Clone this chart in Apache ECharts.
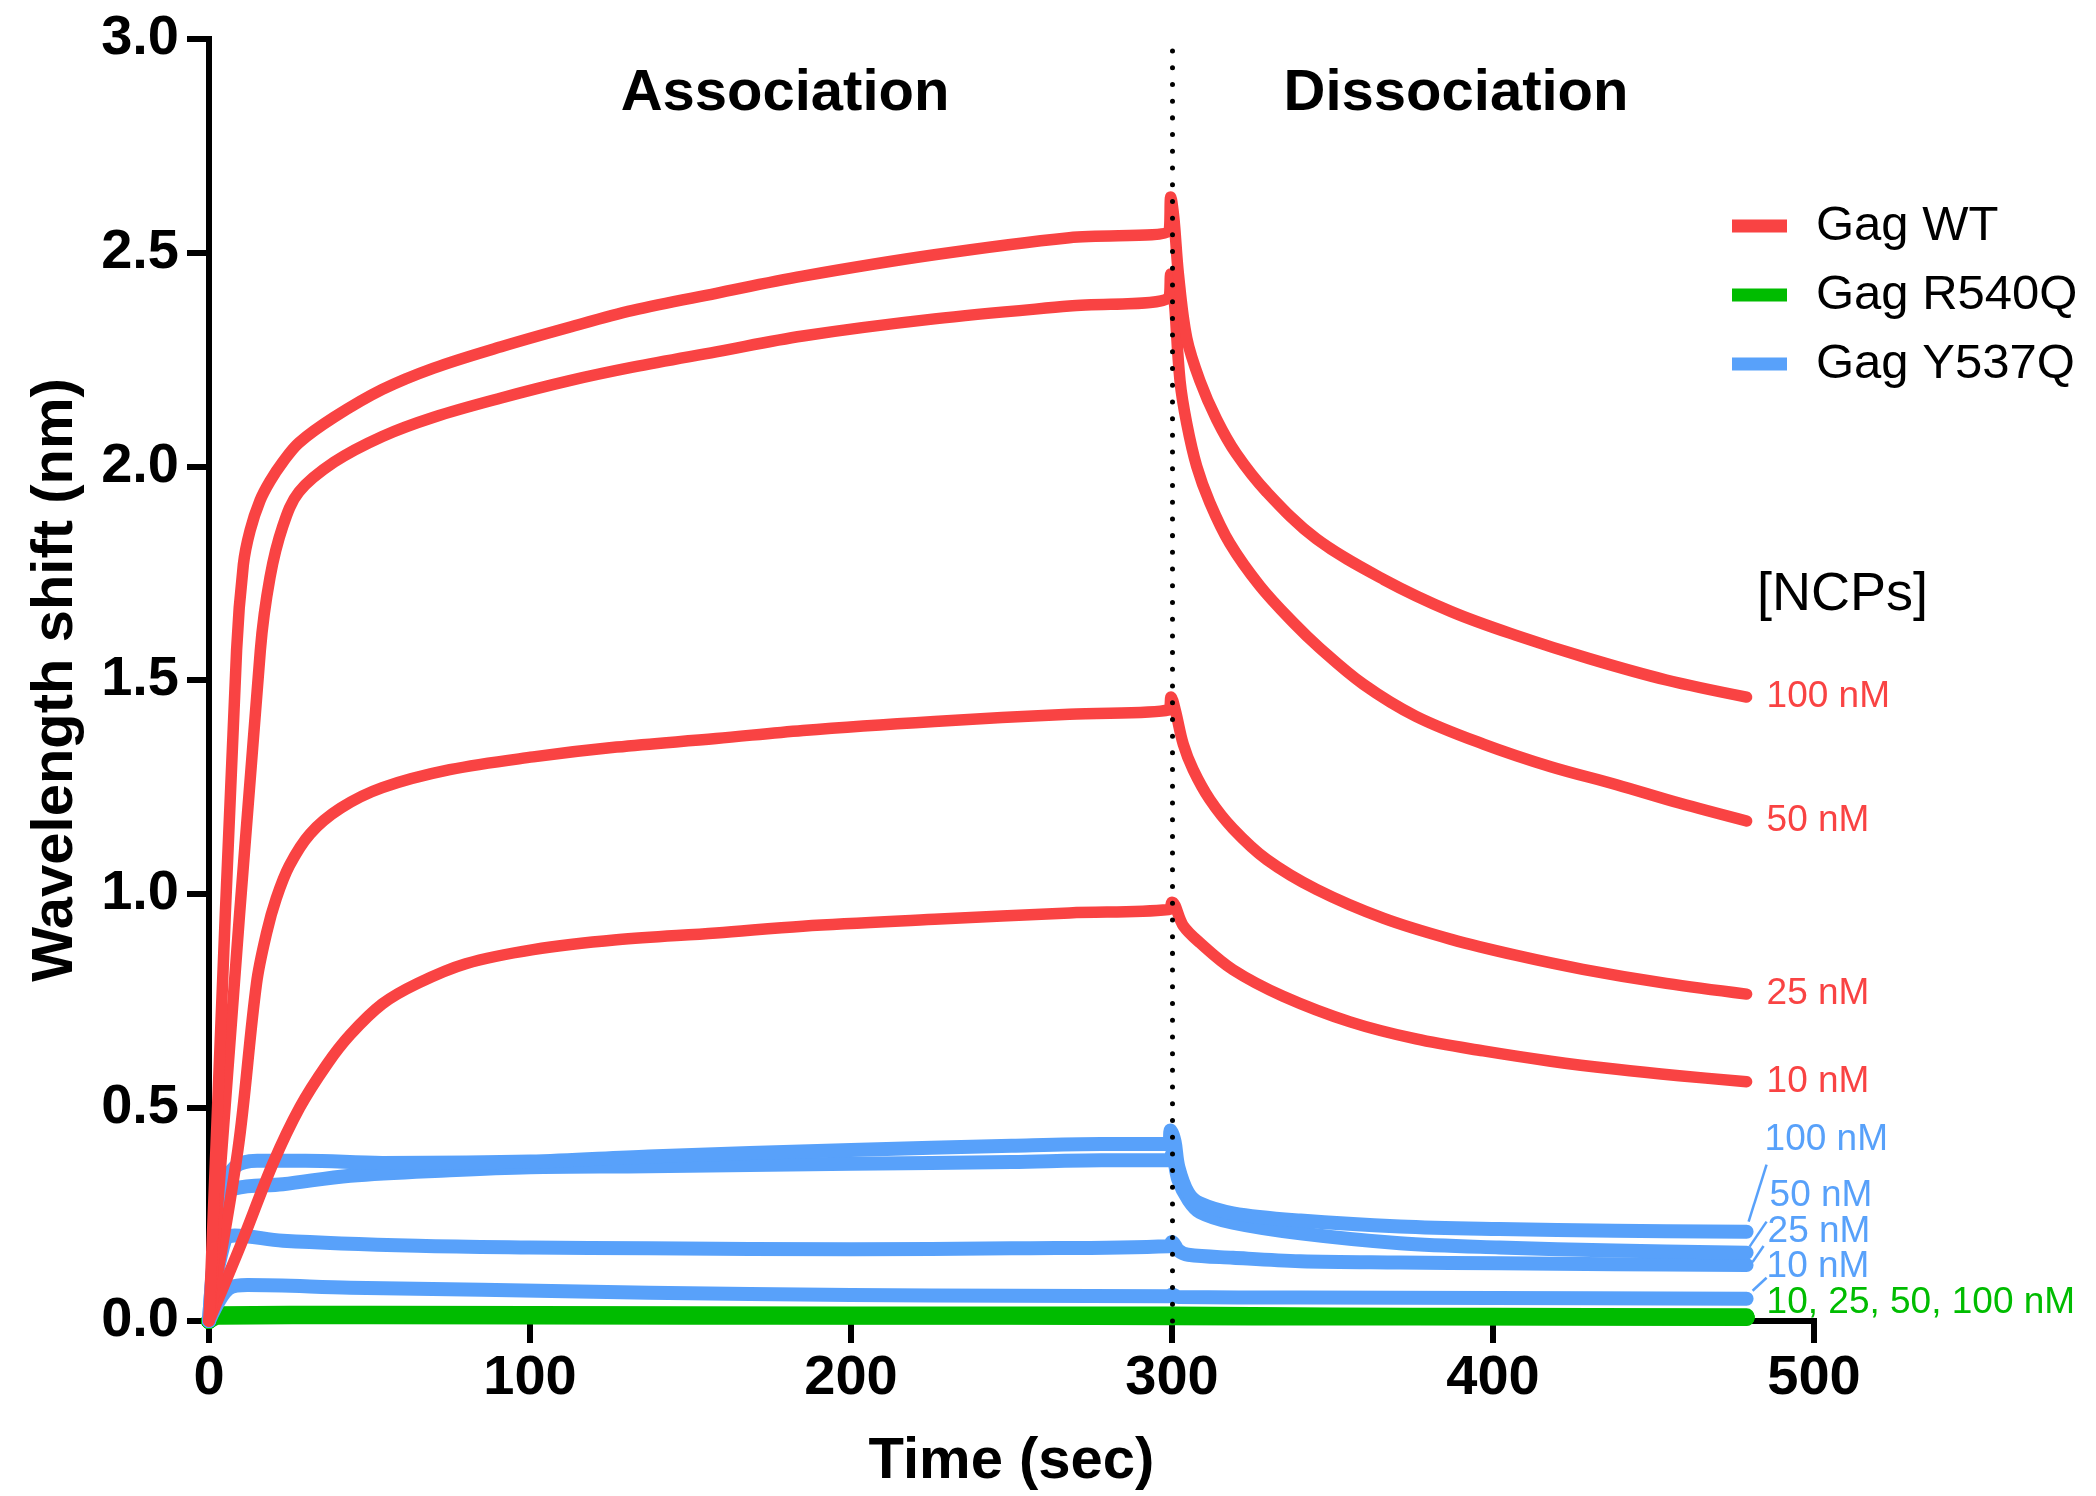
<!DOCTYPE html>
<html>
<head>
<meta charset="utf-8">
<script src="https://cdn.jsdelivr.net/npm/echarts@6/dist/echarts.min.js"></script>
<style>
  html, body { margin: 0; padding: 0; background: #ffffff; }
  #chart { width: 2096px; height: 1496px; }
</style>
</head>
<body>
<div id="chart"></div>
<script>
// Binding kinetics of Gag variants on NCP-loaded biosensors: [time (s), shift (nm)]
const xTicks = [0, 100, 200, 300, 400, 500];
const yTicks = [0, 0.5, 1.0, 1.5, 2.0, 2.5, 3.0];
const concentrations = ['100 nM', '50 nM', '25 nM', '10 nM'];

// Gag WT
const wt100 = [[0,0],[8.6,1.57],[10.7,1.77],[12.8,1.85],[15.9,1.92],[19,1.965],[23,2.01],[28,2.055],[39,2.115],[54,2.18],[70,2.23],[91,2.28],[112,2.325],[132,2.365],[158,2.405],[185,2.445],[226,2.495],[268,2.535],[299,2.55],[299.6,2.63],[300.6,2.58],[302,2.45],[304.6,2.30],[308.7,2.20],[313.9,2.11],[320,2.03],[329.5,1.94],[345,1.83],[366,1.735],[387,1.66],[407,1.605],[430,1.55],[454,1.50],[479,1.46]];
const wt50 = [[0,0],[16,1.57],[19,1.74],[23,1.86],[28,1.94],[39,2.01],[54,2.07],[70,2.115],[91,2.16],[112,2.20],[132,2.232],[158,2.268],[185,2.305],[226,2.345],[268,2.375],[299,2.395],[299.6,2.45],[300.6,2.40],[302.5,2.20],[304.6,2.10],[307.7,2.00],[311.8,1.915],[318,1.82],[327.4,1.72],[337.7,1.635],[346,1.575],[359.6,1.49],[376,1.415],[397,1.35],[418,1.297],[438.5,1.255],[458,1.212],[479,1.17]];
const wt25 = [[0,0],[9,0.40],[14.8,0.79],[18,0.91],[21,0.99],[25,1.065],[31.5,1.14],[41,1.20],[54,1.248],[75,1.29],[101,1.32],[127,1.343],[158,1.363],[185,1.382],[226,1.403],[268,1.42],[299,1.43],[299.7,1.46],[301,1.43],[303.5,1.35],[306.6,1.29],[311.8,1.22],[319,1.152],[329.5,1.08],[345,1.01],[366,0.942],[387,0.893],[407,0.856],[428,0.823],[454,0.79],[479,0.765]];
const wt10 = [[0,0],[10,0.18],[20,0.37],[28.3,0.50],[36.7,0.60],[44,0.67],[54,0.742],[65,0.79],[80,0.836],[101,0.869],[127,0.892],[158,0.908],[185,0.924],[226,0.94],[268,0.955],[299,0.963],[300,0.98],[303.5,0.925],[308.7,0.885],[319,0.822],[334.6,0.76],[355.5,0.70],[376,0.66],[397,0.632],[418,0.608],[438.5,0.589],[458,0.574],[479,0.56]];

// Gag Y537Q
const y537q100 = [[0,0],[4,0.30],[8,0.36],[15,0.375],[30,0.375],[54,0.37],[100,0.373],[137,0.385],[200,0.40],[250,0.41],[278,0.414],[299,0.414],[299.6,0.446],[300.8,0.42],[302,0.36],[305,0.30],[308.7,0.275],[319,0.252],[340,0.235],[371,0.221],[402,0.215],[438,0.211],[479,0.209]];
const y537q50 = [[0,0],[4,0.28],[8,0.31],[23,0.32],[44,0.34],[75,0.353],[100,0.36],[137,0.362],[200,0.368],[250,0.372],[278,0.376],[299,0.376],[300,0.39],[302,0.33],[305,0.285],[308.7,0.255],[319,0.23],[340,0.205],[371,0.182],[402,0.172],[438,0.165],[479,0.16]];
const y537q25 = [[0,0],[5,0.19],[8,0.20],[23,0.188],[65,0.176],[100,0.172],[137,0.17],[200,0.168],[250,0.17],[299,0.175],[300,0.185],[302,0.165],[305,0.155],[319,0.148],[340,0.14],[371,0.137],[402,0.135],[438,0.133],[479,0.131]];
const y537q10 = [[0,0],[6,0.075],[12,0.084],[44,0.078],[85,0.073],[137,0.066],[200,0.061],[250,0.059],[299,0.058],[300,0.062],[302,0.056],[340,0.055],[400,0.054],[479,0.052]];

// Gag R540Q
const r540q100 = [[0,0],[3,0.016],[50,0.017],[150,0.016],[250,0.015],[300,0.015],[350,0.013],[400,0.012],[479,0.011]];
const r540q50 = [[0,0],[3,0.014],[50,0.015],[150,0.014],[250,0.013],[300,0.013],[350,0.011],[400,0.010],[479,0.009]];
const r540q25 = [[0,0],[3,0.012],[50,0.013],[150,0.012],[250,0.011],[300,0.011],[350,0.010],[400,0.009],[479,0.008]];
const r540q10 = [[0,0],[3,0.010],[50,0.011],[150,0.010],[250,0.010],[300,0.009],[350,0.008],[400,0.008],[479,0.007]];

const FONT = "'Liberation Sans', Arial, Helvetica, sans-serif";
const RED = '#F94343';
const GREEN = '#00BC00';
const BLUE = '#58A1FA';

function curve(name, data, color, width, z, label) {
  return {
    type: 'line',
    name: name,
    data: data,
    symbol: 'none',
    showSymbol: false,
    smooth: 0.35,
    silent: true,
    z: z,
    lineStyle: { color: color, width: width, join: 'round', cap: 'round' },
    itemStyle: { color: color },
    emphasis: { disabled: true },
    endLabel: label ? Object.assign({
      show: true,
      color: color,
      fontFamily: FONT,
      fontSize: 37,
      fontWeight: 'normal'
    }, label) : { show: false }
  };
}

const series = [
  curve('Gag R540Q', r540q10, GREEN, 16, 2),
  curve('Gag R540Q', r540q25, GREEN, 16, 2),
  curve('Gag R540Q', r540q50, GREEN, 16, 2),
  curve('Gag R540Q', r540q100, GREEN, 16, 2, { formatter: '10, 25, 50, 100 nM', distance: 20, offset: [0, -14] }),
  curve('Gag Y537Q', y537q10, BLUE, 14, 3, { formatter: concentrations[3], distance: 20, offset: [0, -32] }),
  curve('Gag Y537Q', y537q25, BLUE, 14, 3, { formatter: concentrations[2], distance: 21, offset: [0, -33] }),
  curve('Gag Y537Q', y537q50, BLUE, 14, 3, { formatter: concentrations[1], distance: 23, offset: [0, -57] }),
  curve('Gag Y537Q', y537q100, BLUE, 14, 3, { formatter: concentrations[0], distance: 18, offset: [0, -92] }),
  curve('Gag WT', wt10, RED, 11.5, 4, { formatter: concentrations[3], distance: 20 }),
  curve('Gag WT', wt25, RED, 11.5, 4, { formatter: concentrations[2], distance: 20 }),
  curve('Gag WT', wt50, RED, 11.5, 4, { formatter: concentrations[1], distance: 20 }),
  curve('Gag WT', wt100, RED, 11.5, 4, { formatter: concentrations[0], distance: 20 }),
  {
    // buffer switch from association to dissociation
    type: 'line',
    name: 'switch',
    data: [],
    silent: true,
    z: 10,
    markLine: {
      silent: true,
      symbol: ['none', 'none'],
      label: { show: false },
      lineStyle: { color: '#000000', width: 5, type: [0.01, 16.7], cap: 'round' },
      data: [{ xAxis: 300 }],
      animation: false
    }
  }
];

const chart = echarts.init(document.getElementById('chart'), null, { renderer: 'canvas' });

const axisCommon = {
  axisLine: { show: true, onZero: false, lineStyle: { color: '#000000', width: 6, cap: 'square' } },
  axisTick: { show: true, inside: false, length: 22, lineStyle: { color: '#000000', width: 6 } },
  splitLine: { show: false },
  nameTextStyle: { fontFamily: FONT, fontSize: 58, fontWeight: 'bold', color: '#000000' }
};

chart.setOption({
  animation: false,
  backgroundColor: '#ffffff',
  grid: { left: 209, right: 282, top: 39, bottom: 174, containLabel: false },
  xAxis: Object.assign({}, axisCommon, {
    type: 'value',
    min: xTicks[0],
    max: xTicks[xTicks.length - 1],
    interval: xTicks[1] - xTicks[0],
    name: 'Time (sec)',
    nameLocation: 'middle',
    nameGap: 112,
    axisLabel: {
      margin: 30, fontFamily: FONT, fontSize: 56, fontWeight: 'bold', color: '#000000',
      formatter: function (v) { return String(v); }
    }
  }),
  yAxis: Object.assign({}, axisCommon, {
    type: 'value',
    min: yTicks[0],
    max: yTicks[yTicks.length - 1],
    interval: yTicks[1] - yTicks[0],
    name: 'Wavelength shift (nm)',
    nameLocation: 'middle',
    nameGap: 124,
    axisLabel: {
      margin: 30, fontFamily: FONT, fontSize: 56, fontWeight: 'bold', color: '#000000',
      formatter: function (v) { return v.toFixed(1); }
    }
  }),
  legend: {
    orient: 'vertical',
    left: 1727,
    top: 196,
    icon: 'rect',
    itemWidth: 55,
    itemHeight: 13,
    itemGap: 19,
    selectedMode: false,
    data: ['Gag WT', 'Gag R540Q', 'Gag Y537Q'],
    itemStyle: { borderWidth: 0 },
    textStyle: { fontFamily: FONT, fontSize: 49, color: '#000000', lineHeight: 50, padding: [0, 0, 0, 24] }
  },
  graphic: [
    { type: 'text', id: 'phaseA', x: 785, y: 94, silent: true,
      style: { text: 'Association', fontFamily: FONT, fontSize: 58, fontWeight: 'bold', fill: '#000000', textAlign: 'center', textVerticalAlign: 'middle' } },
    { type: 'text', id: 'phaseD', x: 1456, y: 94, silent: true,
      style: { text: 'Dissociation', fontFamily: FONT, fontSize: 58, fontWeight: 'bold', fill: '#000000', textAlign: 'center', textVerticalAlign: 'middle' } },
    { type: 'text', id: 'ncps', x: 1757, y: 595, silent: true,
      style: { text: '[NCPs]', fontFamily: FONT, fontSize: 54, fill: '#000000', textAlign: 'left', textVerticalAlign: 'middle' } }
  ],
  series: series
});

// leader lines from the Y537Q curve ends to their offset labels
const leaders = [
  { data: y537q100, from: [2, -10], to: [20, -67] },
  { data: y537q50, from: [3, -6], to: [20, -31] },
  { data: y537q25, from: [6, -3], to: [17, -19] },
  { data: y537q10, from: [6, -8], to: [20, -21] }
];
const leaderGraphics = leaders.map(function (l, i) {
  const end = l.data[l.data.length - 1];
  const p = chart.convertToPixel({ gridIndex: 0 }, end);
  return {
    type: 'line', id: 'leader' + i, silent: true, z: 20,
    shape: { x1: p[0] + l.from[0], y1: p[1] + l.from[1], x2: p[0] + l.to[0], y2: p[1] + l.to[1] },
    style: { stroke: BLUE, lineWidth: 2.5 }
  };
});
chart.setOption({ graphic: leaderGraphics });
</script>
</body>
</html>
